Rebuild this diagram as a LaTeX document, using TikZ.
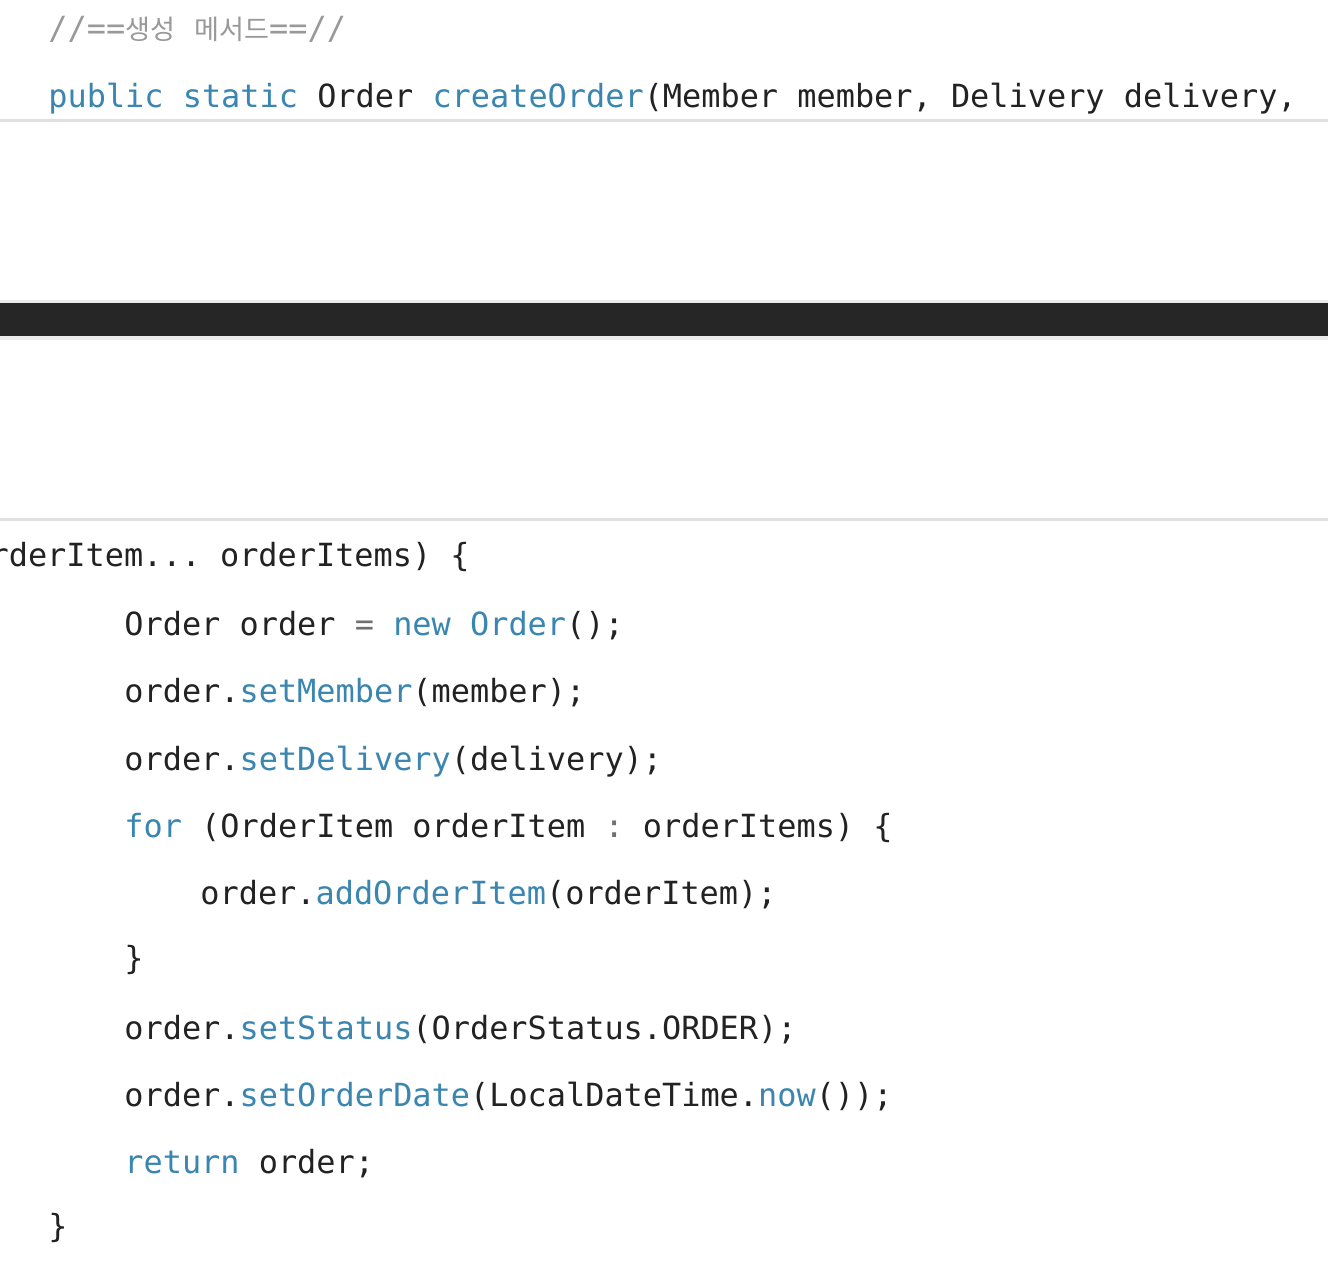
\documentclass[tikz,border=0pt]{standalone}
\usepackage{fontspec}
\setmonofont{DejaVu Sans Mono}
\newfontfamily\cjk[Scale=0.85]{Noto Sans CJK KR}
\usepackage{tikz}
\usetikzlibrary{positioning}

\definecolor{codeblack}{HTML}{222222}
\definecolor{codeblue}{HTML}{3A86B0}
\definecolor{codegray}{HTML}{999999}
\definecolor{opgray}{HTML}{707070}
\definecolor{barblack}{HTML}{262626}
\definecolor{rulegray}{HTML}{E0E0E0}

\newcommand{\kw}[1]{\textcolor{codeblue}{#1}}
\newcommand{\op}[1]{\textcolor{opgray}{#1}}
\newcommand{\ko}[1]{{\cjk #1}}

\tikzset{
  code/.style = {anchor=base west, inner sep=0pt, text=codeblack,
                 font=\ttfamily\fontsize{15.95}{18}\selectfont},
  comment/.style = {code, text=codegray},
  rule/.style = {draw=rulegray, line width=1.5pt}
}

\begin{document}
\begin{tikzpicture}[x=0.5pt, y=-0.5pt]
    \useasboundingbox (0,0) rectangle (1328,1262);
    \fill[white] (0,0) rectangle (1328,1262);
    \clip (0,0) rectangle (1328,1262);

    % top part of the signature
    \node (cmt) [comment] at (48,40) {//==\ko{생성} \ko{메서드}==//};
    \node (sig) [code] at (48,108) {\kw{public} \kw{static} Order \kw{createOrder}(Member member, Delivery delivery,};
    \draw [rule] (0,121) -- (1328,121);

    % dark bar
    \fill [rulegray!60] (0,300) rectangle (1328,340);
    \fill [barblack] (0,303) rectangle (1328,336);

    \draw [rule] (0,519) -- (1328,519);

    % method body
    \node (sig2) [code] at (-30,567) {OrderItem... orderItems) \{};
    \node (new)  [code] at (124,635) {Order order \op{=} \kw{new} \kw{Order}();};
    \node (mem)  [code] at (124,702) {order.\kw{setMember}(member);};
    \node (del)  [code] at (124,770) {order.\kw{setDelivery}(delivery);};
    \node (for)  [code] at (124,837) {\kw{for} (OrderItem orderItem \op{:} orderItems) \{};
    \node (add)  [code] at (200,904) {order.\kw{addOrderItem}(orderItem);};
    \node (end1) [code] at (124,969) {\}};
    \node (stat) [code] at (124,1039) {order.\kw{setStatus}(OrderStatus.ORDER);};
    \node (date) [code] at (124,1106) {order.\kw{setOrderDate}(LocalDateTime.\kw{now}());};
    \node (ret)  [code] at (124,1173) {\kw{return} order;};
    \node (end2) [code] at (48,1237) {\}};
\end{tikzpicture}
\end{document}
